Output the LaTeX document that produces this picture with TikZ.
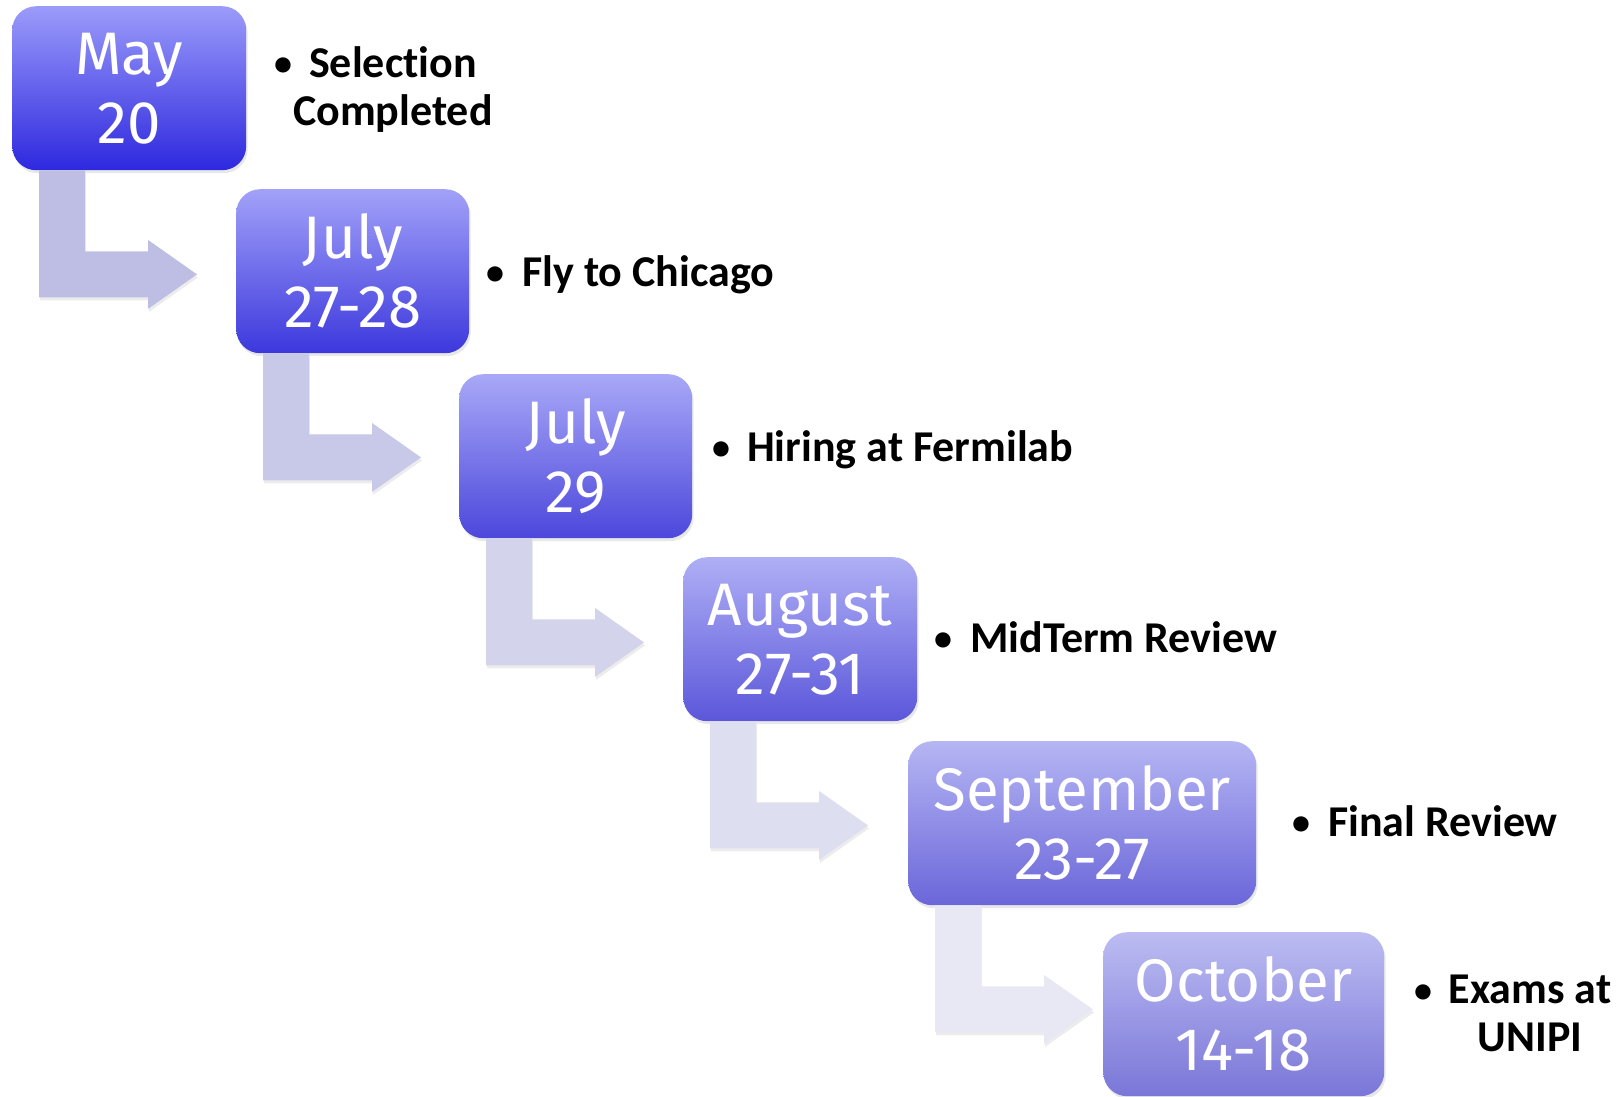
\documentclass[tikz,border=0pt]{standalone}
\usepackage{fontspec}
\setmainfont{Carlito}[RawFeature={-liga}]
\newfontfamily\datefont{Fira Sans}
\usetikzlibrary{shadows}

\definecolor{topfirst}{RGB}{155,155,250}
\definecolor{toplast}{RGB}{188,188,242}
\definecolor{botfirst}{RGB}{45,40,222}
\definecolor{botlast}{RGB}{122,118,216}
\definecolor{barfirst}{RGB}{190,190,228}
\definecolor{barlast}{RGB}{232,232,245}

\tikzset{
  datebox/.style={anchor=north west, rounded corners=24pt, minimum height=164pt,
    inner sep=0pt, align=center, text=white,
    font=\datefont\fontsize{60}{69}\selectfont,
    drop shadow={opacity=0.18, shadow xshift=1.5pt, shadow yshift=-3pt}},
  stepbar/.style={drop shadow={opacity=0.15, shadow xshift=1pt, shadow yshift=-3pt}},
  eventtext/.style={inner sep=0pt, align=center, font=\bfseries\fontsize{44}{48}\selectfont},
  eventdot/.style={inner sep=0pt, font=\bfseries\fontsize{36}{40}\selectfont},
}

\begin{document}
\begin{tikzpicture}[x=1pt,y=-1pt]
  \useasboundingbox (0,0) rectangle (1623,1096);

  % date boxes
  \foreach \px/\py/\w/\lbl [count=\n] in {
      12/6/234/{May\\20},
      236/189/233/{July\\27-28},
      459/374/233/{July\\29},
      683/557/234/{August\\27-31},
      908/741/348/{September\\23-27},
      1103/932/281/{October\\14-18}} {
    \pgfmathtruncatemacro\p{20*(\n-1)}
    \node[datebox, minimum width=\w pt, top color=toplast!\p!topfirst,
      bottom color=botlast!\p!botfirst] (d\n) at (\px,\py) {\lbl};
  }

  % bent arrows
  \foreach \n [count=\k from 0] in {1,...,5} {
    \pgfmathtruncatemacro\p{25*\k}
    \fill[stepbar, barlast!\p!barfirst] ([xshift=27pt]d\n.south west)
      -- ++(46,0) -- ++(0,81) -- ++(63,0) -- ++(0,-11.5) -- ++(49,34.5)
      -- ++(-49,34.5) -- ++(0,-11.5) -- ++(-109,0) -- cycle;
  }

  % events
  \foreach \bx/\by/\tx/\ty/\anc/\note [count=\n] in {
      283/75/393/90/center/{Selection\\Completed},
      495/284/522/286/base west/{Fly to Chicago},
      721/459/747/461/base west/{Hiring at Fermilab},
      943/650/970/652/base west/{MidTerm Review},
      1301/834/1328/836/base west/{Final Review},
      1423/1002/1530/1013/center/{Exams at\\UNIPI}} {
    \node[eventdot, anchor=base] (b\n) at (\bx,\by) {\textbullet};
    \node[eventtext, anchor=\anc] (e\n) at (\tx,\ty) {\note};
  }
\end{tikzpicture}
\end{document}
